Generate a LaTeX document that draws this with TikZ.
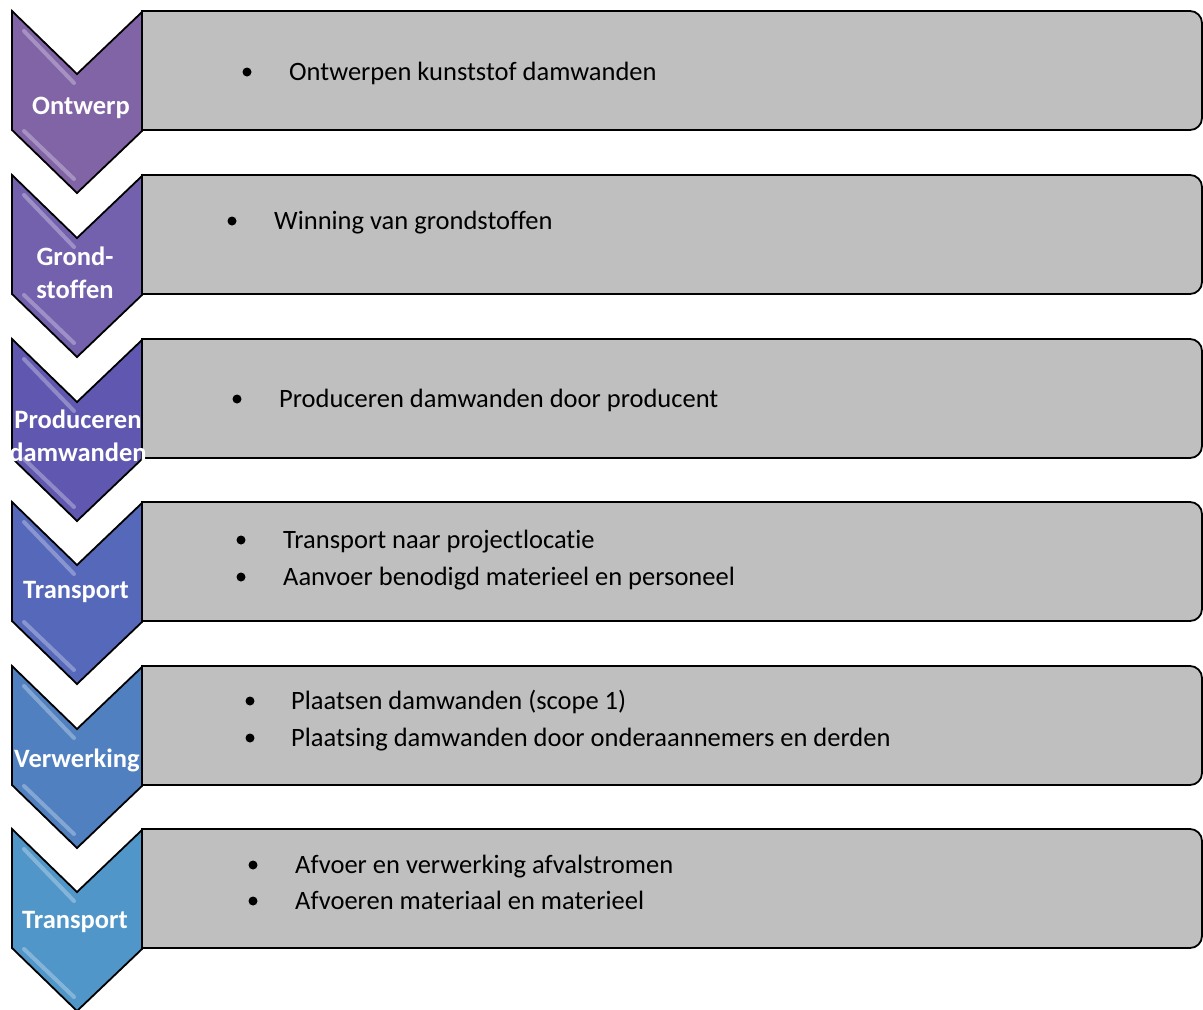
\documentclass[tikz,border=0pt]{standalone}
\usepackage{fontspec}
\setmainfont{Carlito}[Ligatures=NoCommon]
\definecolor{boxgray}{RGB}{191,191,191}
\definecolor{cA}{RGB}{128,100,166}
\definecolor{cB}{RGB}{116,97,174}
\definecolor{cC}{RGB}{96,88,176}
\definecolor{cD}{RGB}{86,104,186}
\definecolor{cE}{RGB}{80,128,192}
\definecolor{cF}{RGB}{80,150,200}
\tikzset{
  boxshape/.style={draw=black, line width=1.8pt, fill=boxgray},
  chevshape/.style={draw=black, line width=1.8pt, line join=miter},
  lbl/.style={text=white, font=\bfseries\fontsize{26.5}{33}\selectfont, align=center, inner sep=0pt},
  itm/.style={anchor=base west, font=\fontsize{26.5}{32}\selectfont, inner sep=0pt, text=black},
  bulletdot/.style={circle, fill=black, inner sep=0pt, minimum size=9pt},
  hilite/.style={white, opacity=0.3, line width=4pt, line cap=round},
}
\begin{document}
\begin{tikzpicture}[x=1pt,y=-1pt]
\useasboundingbox (0,0) rectangle (1203,1010);
\clip (0,0) rectangle (1203,1010);
% boxes and chevrons
\foreach \t/\c in {11/cA,175/cB,339/cC,502/cD,666/cE,829/cF}{
  \draw[boxshape] (142,\t) -- (1190,\t) arc[start angle=-90,end angle=0,radius=12]
     -- (1202,\t+107) arc[start angle=0,end angle=90,radius=12] -- (142,\t+119) -- cycle;
  \draw[chevshape, fill=\c] (12,\t) -- (77,\t+63) -- (142,\t+1) -- (142,\t+120)
     -- (77,\t+182) -- (12,\t+119) -- cycle;
  \draw[hilite] (24,\t+20) -- (74,\t+72);
  \draw[hilite] (24,\t+120) -- (74,\t+168);
}
% chevron labels
\node[lbl] (l1) at (81,108) {Ontwerp};
\node[lbl] (l2) at (75,273) {Grond-\\stoffen};
\node[lbl] (l3) at (78,436) {Produceren\\damwanden};
\node[lbl] (l4) at (76,592) {Transport};
\node[lbl] (l5) at (77,760) {Verwerking};
\node[lbl] (l6) at (75,922) {Transport};
% bullet items
\node[bulletdot] (b1) at (247,72) {};
\node[itm] (t1) at (289,80) {Ontwerpen kunststof damwanden};
\node[bulletdot] (b2) at (232,221) {};
\node[itm] (t2) at (274,229) {Winning van grondstoffen};
\node[bulletdot] (b3) at (237,399) {};
\node[itm] (t3) at (279,407) {Produceren damwanden door producent};
\node[bulletdot] (b4a) at (241,540) {};
\node[itm] (t4a) at (283,548) {Transport naar projectlocatie};
\node[bulletdot] (b4b) at (241,577) {};
\node[itm] (t4b) at (283,585) {Aanvoer benodigd materieel en personeel};
\node[bulletdot] (b5a) at (250,701) {};
\node[itm] (t5a) at (291,709) {Plaatsen damwanden (scope 1)};
\node[bulletdot] (b5b) at (250,738) {};
\node[itm] (t5b) at (291,746) {Plaatsing damwanden door onderaannemers en derden};
\node[bulletdot] (b6a) at (253,865) {};
\node[itm] (t6a) at (295,873) {Afvoer en verwerking afvalstromen};
\node[bulletdot] (b6b) at (253,901) {};
\node[itm] (t6b) at (295,909) {Afvoeren materiaal en materieel};
\end{tikzpicture}
\end{document}
